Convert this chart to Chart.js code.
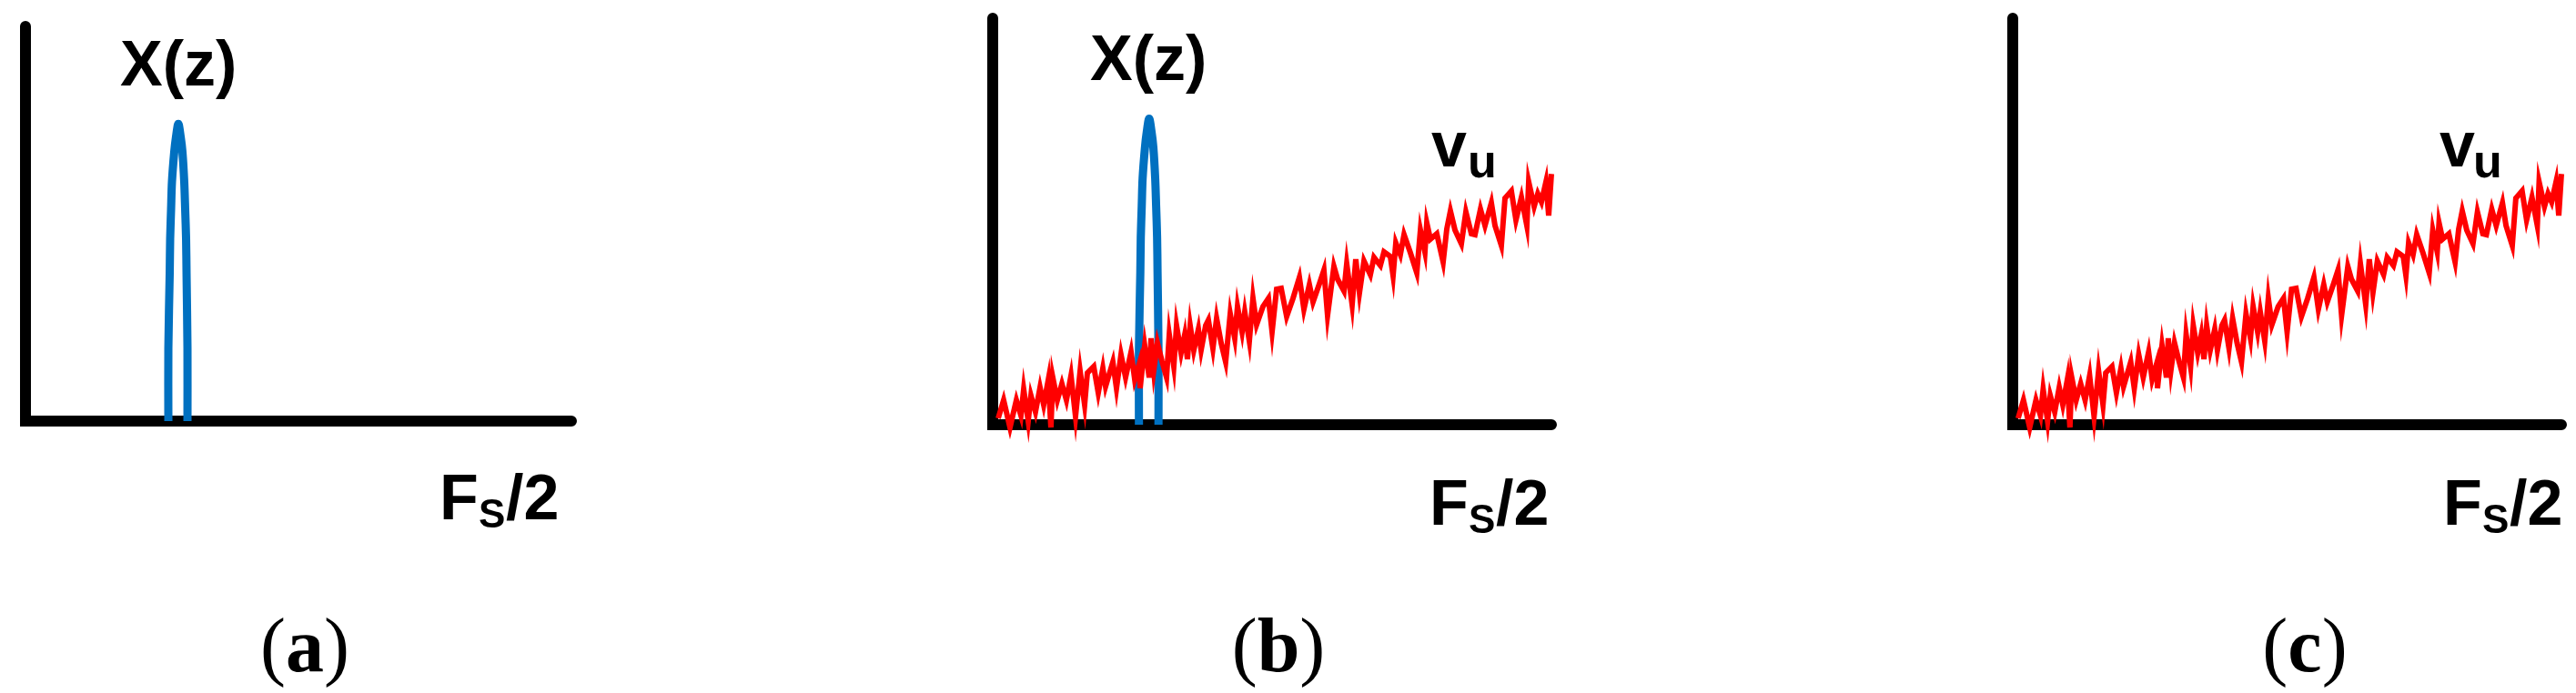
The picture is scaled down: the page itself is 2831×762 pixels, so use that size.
<!DOCTYPE html>
<html>
<head>
<meta charset="utf-8">
<script src="https://cdn.jsdelivr.net/npm/chart.js@4.4.1/dist/chart.umd.min.js"></script>
<style>
  body { margin: 0; width: 2831px; height: 762px; background: #fff; position: relative; overflow: hidden; }
  canvas { position: absolute; top: 0; }
  .lbl { position: absolute; font-family: "Liberation Sans", Arial, sans-serif; font-weight: bold; white-space: nowrap; color: #000; }
  .big { font-size: 70px; line-height: 70px; }
  .sub { font-size: 52px; line-height: 52px; }
  .subs { font-size: 44px; line-height: 44px; }
  .cap { position: absolute; font-family: "Liberation Serif", "Times New Roman", serif; font-size: 84px; line-height: 84px; width: 200px; text-align: center; }
</style>
</head>
<body>
<canvas id="panelA" width="700" height="762" style="left:0px"></canvas>
<canvas id="panelB" width="760" height="762" style="left:1000px"></canvas>
<canvas id="panelC" width="711" height="762" style="left:2120px"></canvas>

<!-- panel (a) labels -->
<div class="lbl big" style="left:132px;top:35px">X(z)</div>
<div class="lbl big" style="left:483px;top:512px">F</div>
<div class="lbl subs" style="left:526px;top:543px">S</div>
<div class="lbl big" style="left:556px;top:512px">/2</div>
<div class="cap" style="left:235px;top:668px">(<b>a</b>)</div>

<!-- panel (b) labels -->
<div class="lbl big" style="left:1198px;top:29px">X(z)</div>
<div class="lbl big" style="left:1573px;top:124px">v</div>
<div class="lbl sub" style="left:1613px;top:151px">u</div>
<div class="lbl big" style="left:1571px;top:518px">F</div>
<div class="lbl subs" style="left:1614px;top:549px">S</div>
<div class="lbl big" style="left:1644px;top:518px">/2</div>
<div class="cap" style="left:1305px;top:668px">(<b>b</b>)</div>

<!-- panel (c) labels -->
<div class="lbl big" style="left:2681px;top:124px">v</div>
<div class="lbl sub" style="left:2718px;top:151px">u</div>
<div class="lbl big" style="left:2685px;top:518px">F</div>
<div class="lbl subs" style="left:2728px;top:549px">S</div>
<div class="lbl big" style="left:2758px;top:518px">/2</div>
<div class="cap" style="left:2433px;top:668px">(<b>c</b>)</div>

<script>
// axes drawn as a polyline: top of y-axis -> origin -> end of x-axis (Fs/2)
const axisX = [0, 0, 100];
const axisY = [100, 0, 0];

// input signal X(z): narrow band peak (x = % of Fs/2, y = % of axis height)
const peakX = [26.17, 26.17, 26.42, 26.5, 26.67, 26.83, 27.25, 27.58, 28.0, 28.42, 28.75, 29.08, 29.25, 29.42, 29.5, 29.67, 29.67];
const peakY = [0, 18.4, 37.6, 46.1, 53.7, 60.6, 68.2, 72.1, 75.3, 72.1, 68.2, 60.6, 53.7, 46.1, 37.6, 18.4, 0];

// shaped noise vu
const noiseX = [0.98, 1.95, 3.09, 4.23, 5.05, 5.54, 6.35, 6.84, 7.65, 8.47, 9.12, 9.93, 10.42, 10.75, 11.56, 12.38,
  13.19, 14.01, 14.82, 15.64, 16.45, 16.94, 18.08, 18.89, 19.71, 20.2, 21.5, 22.15, 22.96, 23.78, 24.76, 25.41,
  26.22, 26.38, 27.2, 28.01, 28.34, 28.83, 29.48, 30.29, 31.11, 31.6, 32.41, 32.9, 33.71, 34.36, 34.85, 35.34,
  35.99, 36.81, 37.3, 38.11, 38.6, 39.41, 40.07, 40.88, 41.69, 42.51, 43.32, 43.81, 44.63, 45.11, 45.93, 46.58,
  47.23, 48.37, 49.35, 50.0, 50.81, 51.63, 52.61, 53.75, 54.89, 55.7, 56.68, 57.33, 58.47, 59.28, 59.93, 61.07,
  61.73, 62.87, 63.36, 64.33, 64.98, 65.64, 66.45, 67.59, 68.24, 69.38, 70.03, 71.17, 71.66, 72.15, 72.96, 73.62,
  74.76, 75.9, 76.55, 77.36, 77.69, 78.34, 79.48, 80.62, 81.27, 81.92, 82.74, 83.88, 84.69, 85.67, 86.32, 87.3,
  88.11, 89.25, 89.9, 91.04, 91.69, 92.83, 93.65, 94.63, 95.6, 95.93, 96.91, 97.56, 98.21, 99.02, 99.51, 100.0];
const noiseY = [1.57, 6.04, -0.67, 6.04, 2.24, 8.72, 0.89, 7.16, 3.13, 9.17, 4.92, 10.96, -0.67, 11.63, 6.04, 10.07,
  6.04, 12.08, 2.01, 13.2, 4.92, 12.75, 14.32, 7.83, 13.87, 9.4, 15.44, 8.95, 17.23, 11.63, 17.9, 11.19,
  14.99, 8.95, 19.46, 11.63, 21.25, 13.42, 20.13, 15.66, 11.63, 22.15, 14.32, 24.38, 17.67, 22.15, 16.11, 24.38,
  18.34, 23.49, 18.34, 24.38, 25.73, 18.79, 26.17, 20.13, 15.44, 27.29, 21.25, 29.08, 22.82, 27.74, 20.58, 31.1,
  24.61, 29.08, 31.1, 22.82, 33.33, 33.56, 26.62, 31.1, 36.24, 28.41, 34.45, 30.2, 34.68, 38.03, 26.85, 38.93,
  35.79, 32.89, 39.6, 29.53, 40.72, 32.44, 40.27, 36.91, 41.16, 39.15, 42.51, 41.39, 36.69, 44.74, 41.83, 46.76,
  42.28, 37.36, 47.87, 42.51, 49.66, 45.64, 46.98, 40.04, 48.1, 52.57, 47.87, 44.52, 52.35, 46.98, 46.76, 53.02,
  48.99, 54.59, 48.99, 44.07, 55.7, 57.49, 50.34, 55.93, 48.99, 59.73, 53.69, 56.82, 54.81, 59.73, 51.45, 61.7];

const toPoints = (xs, ys) => xs.map((x, i) => ({ x: x, y: ys[i] }));

const axisSet = () => ({
  data: toPoints(axisX, axisY),
  borderColor: '#000000',
  borderWidth: 12,
  borderCapStyle: 'round',
  borderJoinStyle: 'miter',
  tension: 0,
  order: 3
});

const peakSet = () => ({
  data: toPoints(peakX, peakY),
  borderColor: '#0070C0',
  borderWidth: 9,
  borderCapStyle: 'butt',
  tension: 0.3,
  order: 2
});

const noiseSet = () => ({
  data: toPoints(noiseX, noiseY),
  borderColor: '#FF0000',
  borderWidth: 6,
  borderJoinStyle: 'miter',
  tension: 0,
  order: 1
});

function makePanel(id, datasets, pad) {
  return new Chart(document.getElementById(id), {
    type: 'line',
    data: { datasets: datasets },
    options: {
      responsive: false,
      animation: false,
      events: [],
      layout: { padding: pad },
      datasets: { line: { clip: false, pointRadius: 0, fill: false } },
      plugins: { legend: { display: false }, tooltip: { enabled: false } },
      scales: {
        x: { type: 'linear', min: 0, max: 100, display: false },
        y: { type: 'linear', min: 0, max: 100, display: false }
      }
    }
  });
}

makePanel('panelA', [axisSet(), peakSet()], { left: 28, right: 72, top: 29, bottom: 299 });
makePanel('panelB', [axisSet(), peakSet(), noiseSet()], { left: 91, right: 55, top: 20, bottom: 295 });
makePanel('panelC', [axisSet(), noiseSet()], { left: 92, right: 16, top: 20, bottom: 295 });
</script>
</body>
</html>
